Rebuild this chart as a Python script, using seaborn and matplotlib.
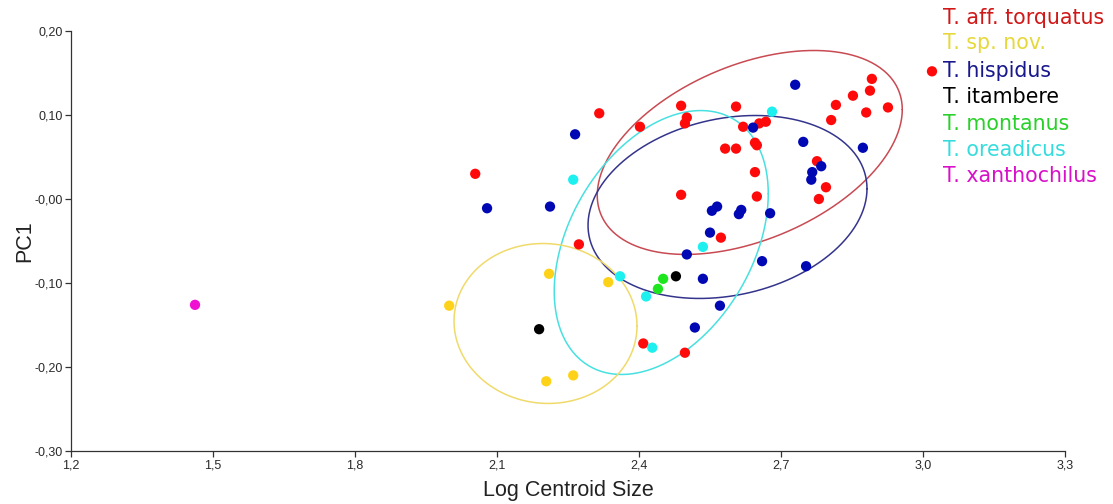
import numpy as np
import pandas as pd
import matplotlib
matplotlib.use("Agg")
import matplotlib.pyplot as plt
import seaborn as sns

# ---------------- data ----------------
species = ["T. aff. torquatus", "T. sp. nov.", "T. hispidus", "T. itambere",
           "T. montanus", "T. oreadicus", "T. xanthochilus"]

torquatus_x = [2.316, 2.402, 2.054, 2.273, 2.489, 2.605, 2.501, 2.497, 2.620, 2.654,
               2.668, 2.645, 2.649, 2.582, 2.605, 2.776, 2.645, 2.795, 2.780, 2.489,
               2.649, 2.573, 2.409, 2.497, 2.892, 2.888, 2.852, 2.816, 2.926, 2.880,
               2.806, 3.019]
torquatus_y = [0.102, 0.086, 0.030, -0.054, 0.111, 0.110, 0.097, 0.090, 0.086, 0.090,
               0.092, 0.067, 0.064, 0.060, 0.060, 0.045, 0.032, 0.014, 0.000, 0.005,
               0.003, -0.046, -0.172, -0.183, 0.143, 0.129, 0.123, 0.112, 0.109, 0.103,
               0.094, 0.152]

spnov_x = [2.210, 2.335, 1.999, 2.261, 2.204]
spnov_y = [-0.089, -0.099, -0.127, -0.210, -0.217]

hispidus_x = [2.265, 2.079, 2.212, 2.730, 2.641, 2.747, 2.873, 2.785, 2.766, 2.764,
              2.565, 2.554, 2.616, 2.611, 2.677, 2.550, 2.501, 2.660, 2.753, 2.535,
              2.571, 2.518]
hispidus_y = [0.077, -0.011, -0.009, 0.136, 0.085, 0.068, 0.061, 0.039, 0.032, 0.023,
              -0.009, -0.014, -0.013, -0.018, -0.017, -0.040, -0.066, -0.074, -0.080, -0.095,
              -0.127, -0.153]

itambere_x = [2.478, 2.189]
itambere_y = [-0.092, -0.155]

montanus_x = [2.451, 2.440]
montanus_y = [-0.095, -0.107]

oreadicus_x = [2.261, 2.681, 2.535, 2.360, 2.415, 2.428]
oreadicus_y = [0.023, 0.104, -0.057, -0.092, -0.116, -0.177]

xanthochilus_x = [1.462]
xanthochilus_y = [-0.126]

# confidence ellipses: centre x, centre y, half-width, half-height, correlation
ellipse_species = ["T. aff. torquatus", "T. hispidus", "T. oreadicus", "T. sp. nov."]
ellipse_cx = [2.634, 2.587, 2.447, 2.2025]
ellipse_cy = [0.0554, -0.0095, -0.0518, -0.1482]
ellipse_rx = [0.3222, 0.2947, 0.2261, 0.1933]
ellipse_ry = [0.1214, 0.1089, 0.1571, 0.0952]
ellipse_rho = [0.42, 0.20, 0.37, -0.03]

x_ticks = [1.2, 1.5, 1.8, 2.1, 2.4, 2.7, 3.0, 3.3]
x_tick_labels = ["1,2", "1,5", "1,8", "2,1", "2,4", "2,7", "3,0", "3,3"]
y_ticks = [0.20, 0.10, 0.00, -0.10, -0.20, -0.30]
y_tick_labels = ["0,20", "0,10", "-0,00", "-0,10", "-0,20", "-0,30"]

# ---------------- styles ----------------
point_colors = {
    "T. aff. torquatus": "#ff0a0a",
    "T. sp. nov.": "#ffd21a",
    "T. hispidus": "#0008b4",
    "T. itambere": "#000000",
    "T. montanus": "#1ee61e",
    "T. oreadicus": "#1ef0f0",
    "T. xanthochilus": "#f010d2",
}
legend_colors = {
    "T. aff. torquatus": "#d01818",
    "T. sp. nov.": "#e6d83a",
    "T. hispidus": "#18188c",
    "T. itambere": "#000000",
    "T. montanus": "#2ad02a",
    "T. oreadicus": "#36dcdc",
    "T. xanthochilus": "#d810c8",
}
ellipse_colors = {
    "T. aff. torquatus": "#c84a52",
    "T. hispidus": "#34348c",
    "T. oreadicus": "#48e0e0",
    "T. sp. nov.": "#f0da6a",
}

# ---------------- build table ----------------
xs = [torquatus_x, spnov_x, hispidus_x, itambere_x, montanus_x, oreadicus_x, xanthochilus_x]
ys = [torquatus_y, spnov_y, hispidus_y, itambere_y, montanus_y, oreadicus_y, xanthochilus_y]
rows = []
for sp, xv, yv in zip(species, xs, ys):
    for a, b in zip(xv, yv):
        rows.append({"species": sp, "size": a, "pc1": b})
df = pd.DataFrame(rows)

sns.set_theme(style="white")
plt.rcParams["font.family"] = ["Liberation Sans", "DejaVu Sans"]

fig = plt.figure(figsize=(11.13, 5.04), dpi=100)
ax = fig.add_axes([71 / 1113, 1 - 451 / 504, (1065 - 71) / 1113, 420 / 504])

# ellipses
t = np.linspace(0, 2 * np.pi, 400)
for sp, cx, cy, rx, ry, rho in zip(ellipse_species, ellipse_cx, ellipse_cy,
                                   ellipse_rx, ellipse_ry, ellipse_rho):
    ex = cx + rx * np.cos(t)
    ey = cy + ry * (rho * np.cos(t) + np.sqrt(1 - rho ** 2) * np.sin(t))
    ax.plot(ex, ey, color=ellipse_colors[sp], lw=1.1, zorder=1)

sns.scatterplot(data=df, x="size", y="pc1", hue="species", palette=point_colors,
                hue_order=species, s=55, linewidth=0, legend=False, ax=ax, zorder=3,
                clip_on=False)

ax.set_xlim(1.2, 3.3)
ax.set_ylim(-0.3, 0.2)
ax.set_xticks(x_ticks)
ax.set_xticklabels(x_tick_labels)
ax.set_yticks(y_ticks)
ax.set_yticklabels(y_tick_labels)
ax.tick_params(axis="both", which="both", direction="out", length=4, width=0.9,
               colors="#333333", labelsize=9, labelcolor="#2a2a2a", pad=2,
               bottom=True, left=True)
for side in ["top", "right"]:
    ax.spines[side].set_visible(False)
for side in ["left", "bottom"]:
    ax.spines[side].set_color("#333333")
    ax.spines[side].set_linewidth(0.9)

ax.set_xlabel("Log Centroid Size", fontsize=15.5, color="#222222")
ax.xaxis.set_label_coords(0.5, -0.068)
ax.set_ylabel("PC1", fontsize=15.5, color="#222222")
ax.yaxis.set_label_coords(-0.036, 0.5)

# legend as coloured text
legend_y = [18, 43, 71, 97, 124, 150, 176]
for sp, yy in zip(species, legend_y):
    fig.text(943 / 1113, 1 - yy / 504, sp, color=legend_colors[sp], fontsize=14.8,
             family=["DejaVu Sans"], va="center", ha="left")

fig.savefig("out.png", dpi=100, facecolor="white")
